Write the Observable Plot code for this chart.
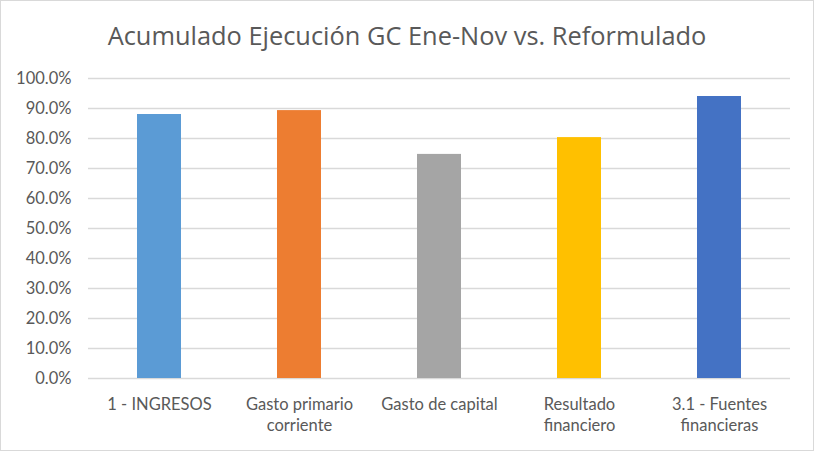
<!DOCTYPE html>
<html>
<head>
<meta charset="utf-8">
<script src="https://cdn.jsdelivr.net/npm/d3@7"></script>
<script src="https://cdn.jsdelivr.net/npm/@observablehq/plot@0.6"></script>
<style>
  body { margin: 0; background: #fff; }
  #wrap { width: 814px; height: 451px; box-sizing: border-box; border: 1px solid #d9d9d9; background: #fff; overflow: hidden; }
  #title { height: 59px; box-sizing: border-box; padding-top: 19px; line-height: 30px; text-align: center; font-family: "Open Sans", sans-serif; font-size: 25.4px; color: #595959; }
  svg { display: block; }
</style>
</head>
<body>
<div id="wrap">
  <div id="title">Acumulado Ejecución GC Ene-Nov vs. Reformulado</div>
  <div id="chart"></div>
</div>
<script>
const categories = ["1 - INGRESOS", "Gasto primario corriente", "Gasto de capital", "Resultado financiero", "3.1 - Fuentes financieras"];
const tickLabels = ["1 - INGRESOS", "Gasto primario\ncorriente", "Gasto de capital", "Resultado\nfinanciero", "3.1 - Fuentes\nfinancieras"];
const values = [0.880, 0.893, 0.747, 0.803, 0.940];
const colors = ["#5B9BD5", "#ED7D31", "#A5A5A5", "#FFC000", "#4472C4"];
const yTicks = [0, 0.1, 0.2, 0.3, 0.4, 0.5, 0.6, 0.7, 0.8, 0.9, 1.0];

const data = categories.map((c, i) => ({category: c, value: values[i], color: colors[i]}));
const labelOf = new Map(categories.map((c, i) => [c, tickLabels[i]]));

const chart = Plot.plot({
  width: 812,
  height: 390,
  marginTop: 18,
  marginBottom: 72,
  marginLeft: 87,
  marginRight: 23,
  style: {fontFamily: "Lato, sans-serif", fontSize: "16.5px", color: "#595959", background: "#fff"},
  x: {domain: categories, paddingInner: 0.687, paddingOuter: 0.3435, label: null},
  y: {domain: [0, 1], label: null},
  marks: [
    Plot.gridY(yTicks, {stroke: "#d9d9d9", strokeOpacity: 1, strokeWidth: 1.5}),
    Plot.barY(data, {x: "category", y: "value", fill: "color"}),
    Plot.axisY(yTicks, {tickSize: 0, tickPadding: 17, tickFormat: d3.format(".1%"), fontSize: 16.5, fill: "#595959"}),
    Plot.axisX({tickSize: 0, tickPadding: 16, tickFormat: d => labelOf.get(d), fontSize: 16.5, fill: "#595959", lineHeight: 1.3})
  ]
});
document.getElementById("chart").appendChild(chart);
</script>
</body>
</html>
